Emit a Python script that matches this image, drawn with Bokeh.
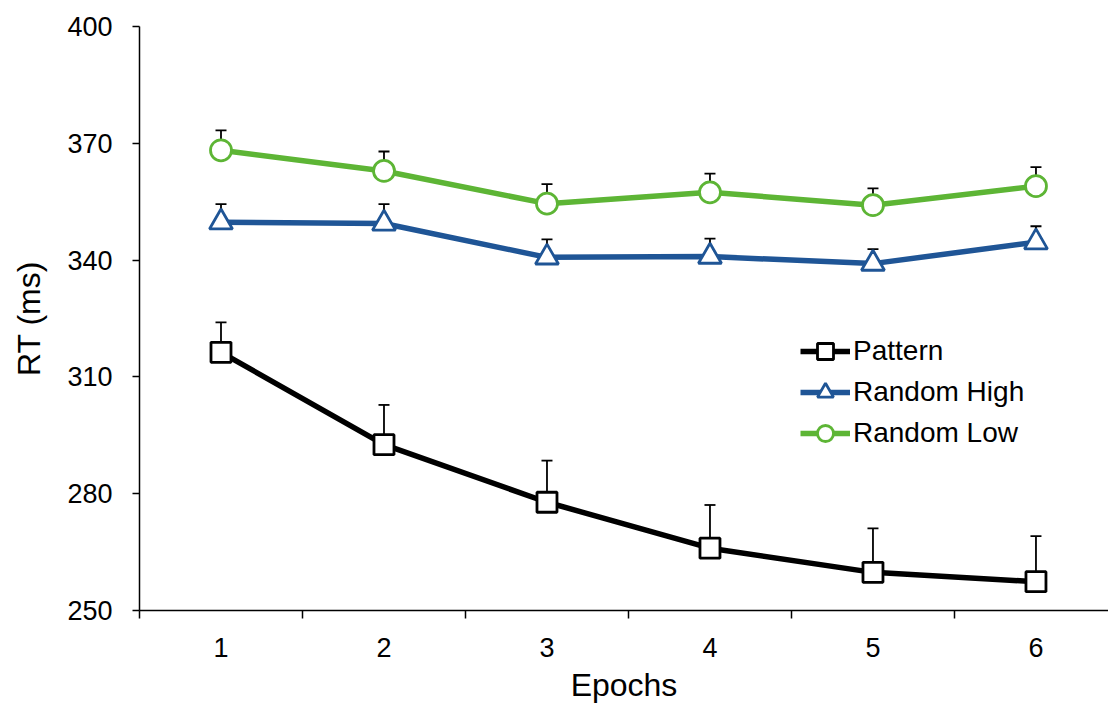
from bokeh.plotting import figure
from bokeh.models import FixedTicker, Legend, LegendItem, Range1d, ColumnDataSource
from bokeh.embed import file_html
from bokeh.resources import INLINE

epochs = [1, 2, 3, 4, 5, 6]
pattern = [316.3, 292.6, 277.8, 266.0, 259.8, 257.4]
pattern_err = [7.7, 10.2, 10.7, 11.1, 11.3, 11.7]
random_high = [349.7, 349.4, 340.7, 340.9, 339.1, 344.6]
random_high_err = [4.7, 5.0, 4.6, 4.6, 3.7, 4.1]
random_low = [368.2, 362.9, 354.5, 357.4, 354.1, 359.0]
random_low_err = [5.1, 5.0, 5.0, 4.8, 4.3, 4.9]
y_ticks = [250, 280, 310, 340, 370, 400]
series_names = ["Pattern", "Random High", "Random Low"]

FONT = "Liberation Sans"
GREEN = "#5DB535"
BLUE = "#1F5596"
BLACK = "#000000"

p = figure(width=1108, height=705, output_backend="svg", toolbar_location=None,
           x_range=Range1d(0.5, 6.445), y_range=Range1d(250, 400),
           min_border_left=139, min_border_top=26, min_border_bottom=94, min_border_right=0)
p.outline_line_color = None
p.xgrid.visible = False
p.ygrid.visible = False
p.background_fill_color = "white"
p.border_fill_color = "white"

# axes
xa = p.xaxis[0]
xa.ticker = FixedTicker(ticks=epochs, minor_ticks=[e - 0.5 for e in epochs] + [6.5])
xa.major_tick_line_color = None
xa.major_tick_out = 0
xa.major_tick_in = 0
xa.minor_tick_line_color = "black"
xa.minor_tick_line_width = 1.5
xa.minor_tick_out = 8
xa.minor_tick_in = 0
xa.axis_line_width = 1.5
xa.axis_line_color = "black"
xa.major_label_text_font = FONT
xa.major_label_text_font_size = "27px"
xa.major_label_text_color = "black"
xa.major_label_standoff = 19
xa.axis_label = "Epochs"
xa.axis_label_text_font = FONT
xa.axis_label_text_font_size = "32px"
xa.axis_label_text_font_style = "normal"
xa.axis_label_text_color = "black"
xa.axis_label_standoff = 7

ya = p.yaxis[0]
ya.ticker = FixedTicker(ticks=y_ticks, minor_ticks=[])
ya.major_tick_line_color = "black"
ya.major_tick_line_width = 1.5
ya.major_tick_out = 7
ya.major_tick_in = 0
ya.minor_tick_line_color = None
ya.axis_line_width = 1.5
ya.axis_line_color = "black"
ya.major_label_text_font = FONT
ya.major_label_text_font_size = "27px"
ya.major_label_text_color = "black"
ya.major_label_standoff = 20
ya.axis_label = "RT (ms)"
ya.axis_label_text_font = FONT
ya.axis_label_text_font_size = "32px"
ya.axis_label_text_font_style = "normal"
ya.axis_label_text_color = "black"
ya.axis_label_standoff = 17

series = [
    (pattern, pattern_err, BLACK, "square", 20),
    (random_high, random_high_err, BLUE, "triangle", 23),
    (random_low, random_low_err, GREEN, "circle", 21),
]

items = []
for name, (vals, errs, color, marker, size) in zip(series_names, series):
    tops = [v + e for v, e in zip(vals, errs)]
    src = ColumnDataSource(dict(x=epochs, y=vals, top=tops))
    p.segment(x0="x", y0="y", x1="x", y1="top", source=src, line_color="black", line_width=1.8)
    p.scatter(x="x", y="top", source=src, marker="dash", size=11, line_color="black", line_width=1.8)
    lr = p.line(x="x", y="y", source=src, line_color=color, line_width=5.5)
    sr = p.scatter(x="x", y="y", source=src, marker=marker, size=size, fill_color="white",
                   line_color=color, line_width=2.8)
    items.append(LegendItem(label=name, renderers=[lr, sr]))

legend = Legend(items=items, location=(661, 157), glyph_width=50, glyph_height=40,
                spacing=1, padding=0, margin=0, label_standoff=3,
                label_text_font=FONT, label_text_font_size="28px", label_text_color="black",
                border_line_color=None, background_fill_alpha=0)
p.add_layout(legend, "center")

open("out.html", "w").write(file_html(p, INLINE))
